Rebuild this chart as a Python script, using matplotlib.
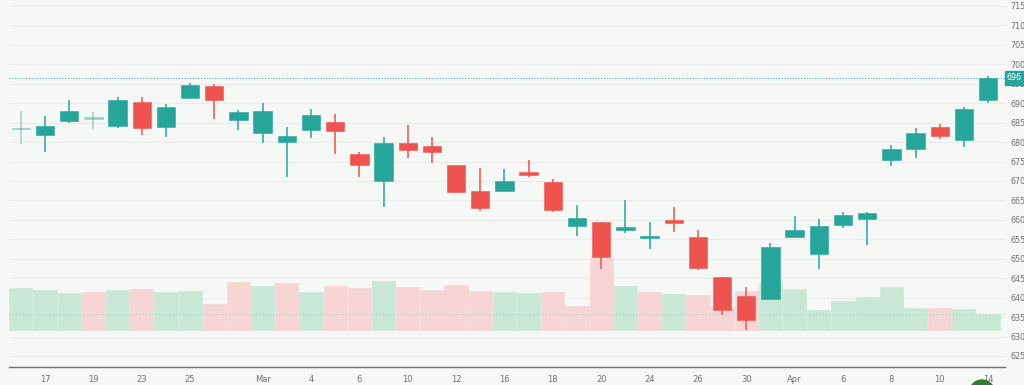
import matplotlib
matplotlib.use("Agg")
import matplotlib.pyplot as plt
import matplotlib.transforms as mtransforms
from matplotlib.patches import Ellipse
import numpy as np

# daily OHLC + volume, Feb 13 .. Apr 14
dates = ['Feb 13', 'Feb 17', 'Feb 18', 'Feb 19', 'Feb 20', 'Feb 23', 'Feb 24', 'Feb 25', 'Feb 26', 'Feb 27',
         'Mar 2', 'Mar 3', 'Mar 4', 'Mar 5', 'Mar 6', 'Mar 9', 'Mar 10', 'Mar 11', 'Mar 12', 'Mar 13',
         'Mar 16', 'Mar 17', 'Mar 18', 'Mar 19', 'Mar 20', 'Mar 23', 'Mar 24', 'Mar 25', 'Mar 26', 'Mar 27',
         'Mar 30', 'Mar 31', 'Apr 1', 'Apr 2', 'Apr 6', 'Apr 7', 'Apr 8', 'Apr 9', 'Apr 10', 'Apr 13', 'Apr 14']
opens = [683.5, 681.9, 685.3, 686.1, 684.2, 690.2, 683.8, 691.4, 694.5, 685.6,
         682.4, 680.1, 683.1, 685.1, 676.9, 669.9, 679.7, 679.1, 674.0, 667.4,
         667.4, 672.2, 669.8, 658.3, 659.4, 657.4, 655.3, 659.9, 655.5, 645.3,
         640.4, 639.6, 655.6, 651.2, 658.8, 660.2, 675.4, 678.3, 684.0, 680.5, 690.9]
highs = [688.1, 686.7, 690.8, 687.8, 691.6, 691.7, 689.9, 695.3, 694.9, 688.3,
         690.1, 683.9, 688.5, 687.2, 677.4, 681.2, 684.4, 681.2, 674.0, 673.3,
         673.0, 675.4, 670.4, 663.8, 659.4, 665.1, 659.5, 663.4, 657.4, 645.3,
         642.7, 654.0, 661.0, 660.2, 662.0, 662.0, 679.3, 683.5, 684.7, 688.9, 697.1]
lows = [679.4, 677.4, 684.8, 683.3, 683.5, 681.9, 681.4, 691.4, 685.9, 683.0,
        679.7, 671.0, 681.0, 677.0, 671.1, 663.4, 675.8, 674.6, 666.8, 662.3,
        667.4, 671.1, 662.1, 655.8, 647.3, 656.5, 652.4, 656.9, 647.2, 635.5,
        631.7, 639.6, 655.3, 647.4, 657.8, 653.5, 673.9, 675.8, 680.7, 678.8, 690.1]
closes = [683.5, 684.2, 688.1, 686.1, 690.9, 683.7, 689.0, 694.6, 690.8, 687.8,
          688.1, 681.6, 686.9, 682.9, 674.0, 679.7, 678.0, 677.5, 667.1, 663.1,
          669.9, 671.5, 662.5, 660.6, 650.5, 658.2, 655.6, 659.2, 647.6, 636.8,
          634.3, 652.9, 657.5, 658.3, 661.3, 661.8, 678.2, 682.4, 681.5, 688.6, 696.5]
volumes = [41.7, 39.7, 37.0, 38.0, 39.7, 41.3, 38.3, 38.7, 25.7, 48.3,
           44.0, 46.7, 38.3, 43.7, 41.7, 49.0, 43.0, 40.0, 45.3, 38.7,
           38.0, 37.0, 38.3, 23.7, 72.3, 43.7, 38.0, 36.0, 35.0, 23.0,
           39.3, 47.0, 41.0, 20.0, 28.7, 33.0, 43.0, 21.7, 21.7, 21.3, 15.7]

tick_pos = [1, 3, 5, 7, 10, 12, 14, 16, 18, 20, 22, 24, 26, 28, 30, 32, 34, 36, 38, 40]
tick_labels = ['17', '19', '23', '25', 'Mar', '4', '6', '10', '12', '16',
               '18', '20', '24', '26', '30', 'Apr', '6', '8', '10', '14']
price_ticks = list(range(625, 720, 5))

UP = '#26a69a'
DOWN = '#ef5350'
VOL_UP = '#c9e7d6'
VOL_DOWN = '#f7d5d5'
BG = '#f6f8f6'

fig = plt.figure(figsize=(10.24, 3.85), dpi=100, facecolor=BG)
ax = fig.add_axes([9 / 1024, 18 / 385, 996 / 1024, 367 / 385])
ax.set_facecolor(BG)
ax_vol = ax.twinx()
ax_c = ax.twinx()

x = np.arange(len(dates))
xlim = (-0.49, 40.70)
ylim = (622.17, 716.54)
ax.set_xlim(*xlim)
for a in (ax, ax_vol, ax_c):
    for s in a.spines.values():
        s.set_visible(False)
ax.set_ylim(*ylim)
ax_c.set_ylim(*ylim)
ax_vol.set_ylim(-37, 330)

# grid + price axis
ax.set_yticks(price_ticks)
ax.yaxis.tick_right()
ax.tick_params(axis='y', length=0, pad=4, labelsize=5.8, labelcolor='#707070')
ax.grid(axis='y', color='#e9ecea', lw=0.8)
ax.set_xticks(tick_pos)
ax.set_xticklabels(tick_labels)
ax.tick_params(axis='x', length=0, pad=6, labelsize=6, labelcolor='#707070')
ax.spines['bottom'].set_visible(True)
ax.spines['bottom'].set_color('#6f6f6f')
ax.spines['bottom'].set_linewidth(1.0)
ax_vol.set_yticks([])
ax_c.set_yticks([])

# volume: colour by close vs previous close
prev = [closes[0]] + closes[:-1]
vcol = [VOL_UP if c >= p else VOL_DOWN for c, p in zip(closes, prev)]
ax_vol.bar(x, volumes, width=0.96, color=vcol, edgecolor=[matplotlib.colors.to_rgba(c, 0.6) for c in vcol],
           linewidth=0.8)
ax_vol.axhline(volumes[-1], color='#a9d6bf', lw=0.8, ls=(0, (1, 2)))

# candles
for i in range(len(dates)):
    o, h, l, c = opens[i], highs[i], lows[i], closes[i]
    col = UP if c >= o else DOWN
    alpha = 0.45 if c == o else 1.0
    ax_c.vlines(i, l, h, color=col, lw=1.1, alpha=alpha)
    bot = min(o, c)
    hgt = max(abs(c - o), 0.45)
    if c == o:
        bot -= 0.22
    ax_c.bar(i, hgt, bottom=bot, width=0.76, color=col, edgecolor=col, linewidth=0.4, alpha=alpha)

# last price line + label
last = closes[-1]
ax_c.axhline(last, color=UP, lw=0.8, ls=(0, (1, 1.5)), alpha=0.8)
trans = mtransforms.blended_transform_factory(ax_c.transAxes, ax_c.transData)
ax_c.text(1.002, last, '%d' % int(last), transform=trans, ha='left', va='center', fontsize=5.8,
          color='white', bbox=dict(boxstyle='square,pad=0.3', fc=UP, ec=UP), clip_on=False)

# round badge at bottom right
fig.add_artist(Ellipse((982 / 1024, 1 - 392.5 / 385), 25 / 1024, 25 / 385,
                       transform=fig.transFigure, color='#2e7d32'))

fig.savefig('out.png', dpi=100, facecolor=BG)
